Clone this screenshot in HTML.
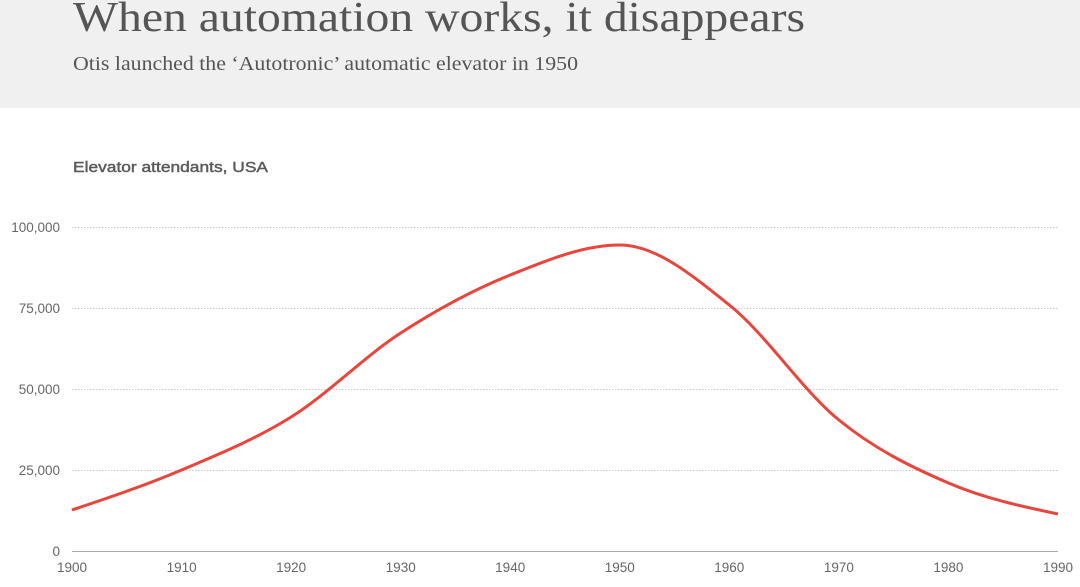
<!DOCTYPE html>
<html><head><meta charset="utf-8">
<style>
html,body{margin:0;padding:0;background:#fff;}
body{width:1080px;height:587px;overflow:hidden;}
svg{display:block;}
</style></head>
<body>
<svg width="1080" height="587" viewBox="0 0 1080 587" xmlns="http://www.w3.org/2000/svg">
<rect x="0" y="0" width="1080" height="108" fill="#f0f0f0"/>
<text x="73" y="31" font-family="Liberation Serif, serif" font-size="42" fill="#555" textLength="732" lengthAdjust="spacingAndGlyphs">When automation works, it disappears</text>
<text x="73" y="70" font-family="Liberation Serif, serif" font-size="20" fill="#555" textLength="505" lengthAdjust="spacingAndGlyphs">Otis launched the ‘Autotronic’ automatic elevator in 1950</text>
<text x="73" y="172" font-family="Liberation Sans, sans-serif" font-size="15" fill="#5a5a5a" stroke="#5a5a5a" stroke-width="0.45" textLength="195" lengthAdjust="spacingAndGlyphs">Elevator attendants, USA</text>
<g stroke="#c8c8c8" stroke-width="1" stroke-dasharray="1.5,1.5">
<line x1="72" y1="227.5" x2="1058" y2="227.5"/>
<line x1="72" y1="308.5" x2="1058" y2="308.5"/>
<line x1="72" y1="389.5" x2="1058" y2="389.5"/>
<line x1="72" y1="470.5" x2="1058" y2="470.5"/>
</g>
<line x1="72" y1="551.5" x2="1058" y2="551.5" stroke="#aaa" stroke-width="1"/>
<g font-family="Liberation Sans, sans-serif" font-size="13.5" fill="#666" text-anchor="end">
<text x="60" y="232">100,000</text>
<text x="60" y="313">75,000</text>
<text x="60" y="394">50,000</text>
<text x="60" y="475">25,000</text>
<text x="60" y="556">0</text>
</g>
<g font-family="Liberation Sans, sans-serif" font-size="13.5" fill="#666" text-anchor="middle">
<text x="72" y="572">1900</text>
<text x="181.6" y="572">1910</text>
<text x="291.1" y="572">1920</text>
<text x="400.7" y="572">1930</text>
<text x="510.2" y="572">1940</text>
<text x="619.8" y="572">1950</text>
<text x="729.3" y="572">1960</text>
<text x="838.9" y="572">1970</text>
<text x="948.4" y="572">1980</text>
<text x="1058" y="572">1990</text>
</g>
<path d="M72,510 C108.52,497.75 145.08,485.5 181.56,470 C218.08,454.5 254.6,439.83 291.11,417 C327.63,394.17 364.15,356.67 400.67,333 C437.19,309.33 473.71,289.67 510.22,275 C546.74,260.33 583.26,245 619.78,245 C656.3,245 692.82,275.83 729.33,305 C765.85,334.17 802.37,390.33 838.89,420 C875.41,449.67 911.93,467.33 948.44,483 C984.96,498.67 1021.48,506.33 1058,514" fill="none" stroke="#e8463c" stroke-width="3" stroke-linejoin="round" stroke-linecap="butt"/>
</svg>
</body></html>
